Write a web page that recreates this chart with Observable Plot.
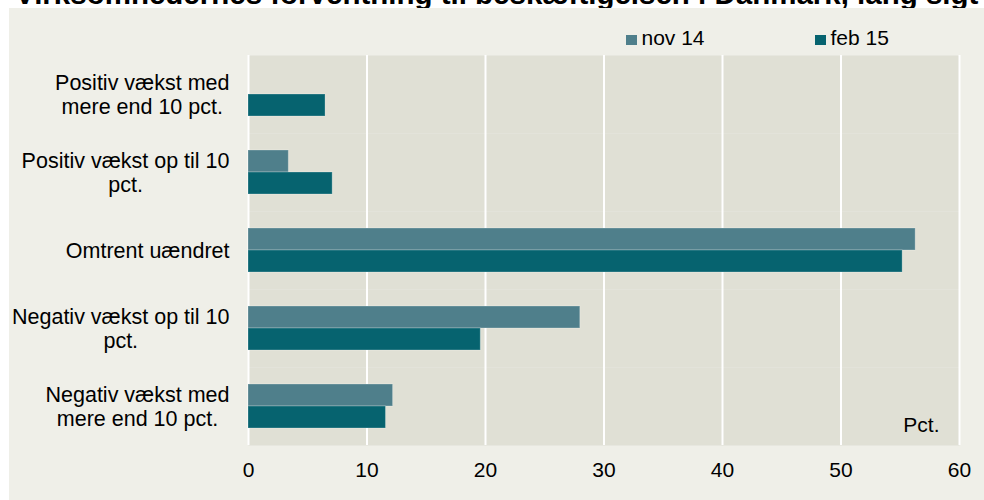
<!DOCTYPE html>
<html>
<head>
<meta charset="utf-8">
<script src="https://cdn.jsdelivr.net/npm/d3@7"></script>
<script src="https://cdn.jsdelivr.net/npm/@observablehq/plot@0.6"></script>
<style>
  html, body { margin: 0; padding: 0; background: #ffffff; }
  body { width: 984px; height: 500px; position: relative; overflow: hidden; font-family: "Liberation Sans", Arial, sans-serif; }
  #title { position: absolute; left: 0; top: 0; width: 984px; height: 8px; overflow: hidden; }
  #title span { position: absolute; left: 15px; top: -21px; font-weight: bold; font-size: 29.5px; line-height: 29.5px; white-space: nowrap; color: #000; }
  #chart { position: absolute; left: 9px; top: 8px; width: 975px; height: 492px; background: #efefe8; }
  .leg { position: absolute; top: 18px; font-size: 21px; line-height: 24px; color: #000; white-space: nowrap; }
  .leg i { display: inline-block; width: 10.5px; height: 10.5px; margin-right: 5px; vertical-align: 0px; }
</style>
</head>
<body>
<div id="title"><span>Virksomhedernes forventning til beskæftigelsen i Danmark, lang sigt</span></div>
<div id="chart"></div>
<script>
const categories = [
  "Positiv vækst med\nmere end 10 pct.",
  "Positiv vækst op til 10\npct.",
  "Omtrent uændret",
  "Negativ vækst op til 10\npct.",
  "Negativ vækst med\nmere end 10 pct."
];
const seriesNames = ["nov 14", "feb 15"];
const nov14 = [0, 3.4, 56.3, 28.0, 12.2];
const feb15 = [6.5, 7.1, 55.2, 19.6, 11.6];
const xTicks = [0, 10, 20, 30, 40, 50, 60];
const colors = ["#4f7f8b", "#06636f"];
const unitLabel = "Pct.";

const data = [];
categories.forEach((c, i) => {
  data.push({category: c, series: seriesNames[0], value: nov14[i]});
  data.push({category: c, series: seriesNames[1], value: feb15[i]});
});

const chart = document.getElementById("chart");

// legend
const legPos = [617, 806];
seriesNames.forEach((s, i) => {
  const d = document.createElement("div");
  d.className = "leg";
  d.style.left = legPos[i] + "px";
  d.innerHTML = `<i style="background:${colors[i]}"></i>${s}`;
  chart.appendChild(d);
});

const plot = Plot.plot({
  width: 975,
  height: 492,
  marginLeft: 239,
  marginRight: 25,
  marginTop: 46,
  marginBottom: 54,
  style: { background: "transparent", fontFamily: "Liberation Sans, Arial, sans-serif", fontSize: "21px", color: "#000" },
  x: { domain: [0, 60], ticks: xTicks },
  fy: { domain: categories, padding: 0, label: null },
  y: { domain: seriesNames, paddingInner: 0, paddingOuter: 0.72, axis: null },
  color: { domain: seriesNames, range: colors },
  marks: [
    Plot.frame({ fill: "#e0e0d5", stroke: null }),
    Plot.gridX(xTicks, { stroke: "#ffffff", strokeOpacity: 1, strokeWidth: 2 }),
    Plot.barX(data.filter(d => d.value > 0), {
      fy: "category", y: "series", x: "value", fill: "series",
      stroke: "#ffffff", strokeOpacity: 0.25, strokeWidth: 1
    }),
    Plot.axisX(xTicks, { tickSize: 0, tickPadding: 17, fontSize: 21, label: null }),
    Plot.axisFy({ anchor: "left", tickSize: 0, tickPadding: 19, fontSize: 21.5, lineHeight: 1.09, label: null }),
    Plot.text([{category: categories[categories.length - 1], label: unitLabel}], {
      fy: "category", text: "label", frameAnchor: "bottom-right", textAnchor: "end",
      fontSize: 21, dx: -20, dy: -14, lineAnchor: "bottom"
    })
  ]
});
chart.appendChild(plot);

// center multi-line category labels within their right-aligned block
plot.querySelectorAll("[aria-label='fy-axis tick label'] text").forEach(t => {
  const spans = Array.from(t.querySelectorAll("tspan"));
  if (spans.length < 2) return;
  const widths = spans.map(s => s.getComputedTextLength());
  const maxW = Math.max(...widths);
  spans.forEach((s, k) => s.setAttribute("dx", -(maxW - widths[k]) / 2));
});
</script>
</body>
</html>
